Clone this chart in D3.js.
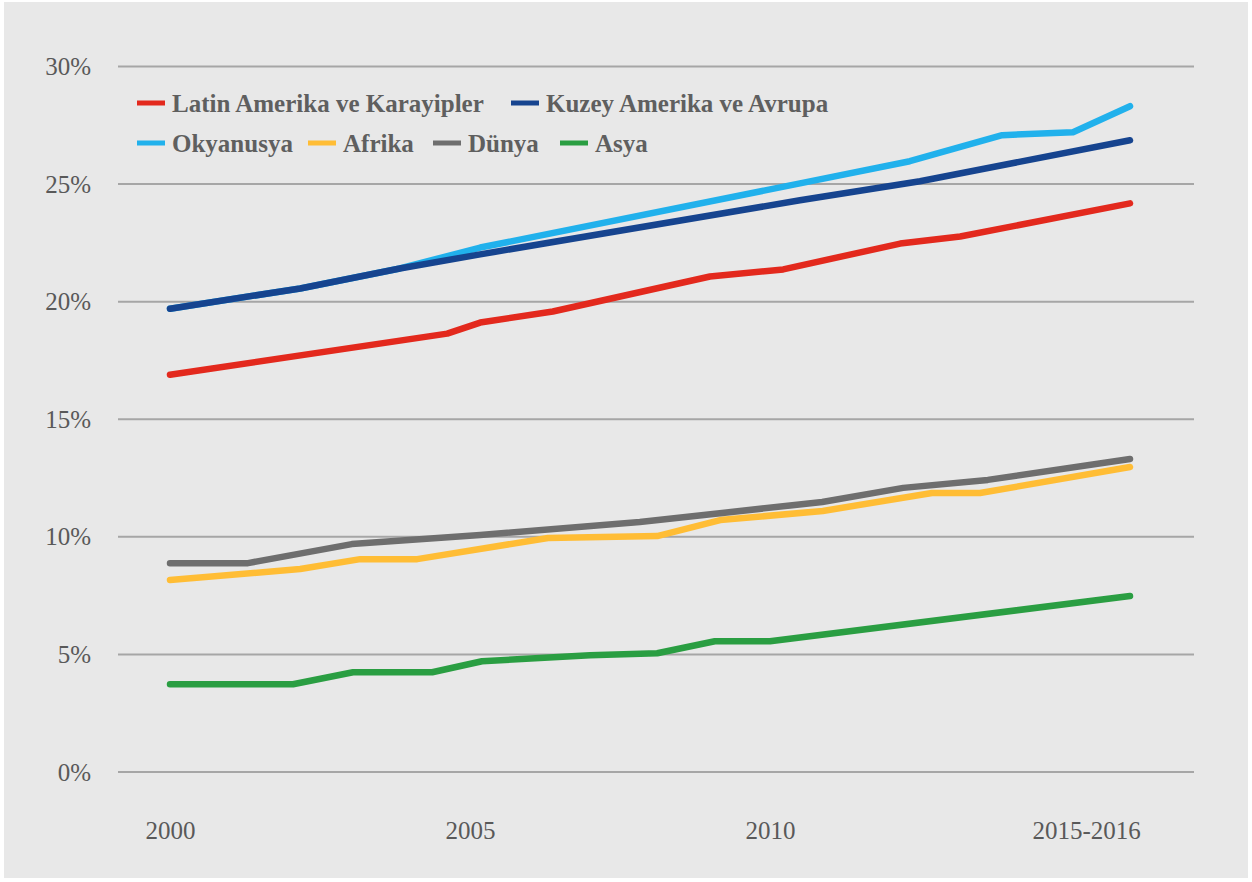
<!DOCTYPE html>
<html>
<head>
<meta charset="utf-8">
<script src="https://cdn.jsdelivr.net/npm/d3@7/dist/d3.min.js"></script>
<style>
  html, body { margin: 0; padding: 0; background: #ffffff; }
  svg { display: block; }
  text { font-family: "Liberation Serif", "Times New Roman", serif; }
</style>
</head>
<body>
<div id="chart"></div>
<script>
// Share of population (%) by region, 2000 – 2015/2016
const yTicks = [0, 5, 10, 15, 20, 25, 30];
const xTickYears = [2000, 2005, 2010, 2015.27];
const xTickLabels = ["2000", "2005", "2010", "2015-2016"];

const seriesNames = ["Latin Amerika ve Karayipler", "Kuzey Amerika ve Avrupa", "Okyanusya", "Afrika", "Dünya", "Asya"];
const seriesColors = ["#e3291d", "#16448f", "#21b1ec", "#ffbd35", "#6e6e6e", "#2a9e42"];

const latinYears  = [2000, 2004.62, 2005.17, 2006.38, 2009, 2010.22, 2012.17, 2013.17, 2016];
const latinValues = [16.87, 18.62, 19.09, 19.56, 21.05, 21.35, 22.45, 22.75, 24.16];

const kuzeyYears  = [2000, 2002.17, 2003.83, 2005.17, 2010.5, 2012.5, 2016];
const kuzeyValues = [19.68, 20.54, 21.39, 21.99, 24.29, 25.10, 26.84];

const okyanusyaYears  = [2000, 2002.17, 2003.83, 2005.17, 2010.5, 2012.33, 2013.87, 2015.05, 2016];
const okyanusyaValues = [19.68, 20.54, 21.39, 22.28, 25.01, 25.95, 27.06, 27.18, 28.29];

const afrikaYears  = [2000, 2002.17, 2003.17, 2004.12, 2006.3, 2008.12, 2009.17, 2010.88, 2012.7, 2013.5, 2016];
const afrikaValues = [8.14, 8.61, 9.03, 9.03, 9.93, 10.01, 10.69, 11.08, 11.84, 11.84, 12.95];

const dunyaYears  = [2000, 2001.3, 2003.03, 2005.17, 2007.83, 2010.87, 2012.22, 2013.63, 2016];
const dunyaValues = [8.86, 8.86, 9.67, 10.06, 10.61, 11.46, 12.06, 12.40, 13.29];

const asyaYears  = [2000, 2002.05, 2003.05, 2004.37, 2005.2, 2007, 2008.12, 2009.08, 2010, 2016];
const asyaValues = [3.71, 3.71, 4.22, 4.22, 4.69, 4.94, 5.03, 5.54, 5.54, 7.46];

const series = [
  { name: seriesNames[0], color: seriesColors[0], years: latinYears, values: latinValues },
  { name: seriesNames[1], color: seriesColors[1], years: kuzeyYears, values: kuzeyValues },
  { name: seriesNames[2], color: seriesColors[2], years: okyanusyaYears, values: okyanusyaValues },
  { name: seriesNames[3], color: seriesColors[3], years: afrikaYears, values: afrikaValues },
  { name: seriesNames[4], color: seriesColors[4], years: dunyaYears, values: dunyaValues },
  { name: seriesNames[5], color: seriesColors[5], years: asyaYears, values: asyaValues }
];

// paint order: the light-blue line sits under the dark-blue one, yellow under grey
const drawOrder = [0, 2, 1, 3, 4, 5];

const W = 1252, H = 882;
const svg = d3.select("#chart").append("svg").attr("width", W).attr("height", H);

svg.append("rect").attr("x", 4).attr("y", 2).attr("width", W - 8).attr("height", H - 6)
  .attr("fill", "#e8e8e8");

const x = d3.scaleLinear().domain([2000, 2016]).range([170, 1130]);
const y = d3.scaleLinear().domain([0, 30]).range([771.5, 66]);
const gridX0 = 118, gridX1 = 1194;

// horizontal gridlines + percentage labels
const yAxis = d3.axisLeft(y).tickValues(yTicks).tickSize(gridX1 - gridX0)
  .tickFormat(d => d + "%");
const gy = svg.append("g").attr("transform", `translate(${gridX1},0)`).call(yAxis);
gy.select(".domain").remove();
gy.selectAll(".tick line").attr("stroke", "#a6a6a6").attr("stroke-width", 2);
gy.selectAll(".tick text")
  .attr("x", -(gridX1 - 91)).attr("dy", "0.34em")
  .attr("text-anchor", "end")
  .attr("fill", "#595959").style("font-size", "25px");

// year labels along the bottom
const xAxis = d3.axisBottom(x).tickValues(xTickYears).tickSize(0)
  .tickFormat((d, i) => xTickLabels[i]);
const gx = svg.append("g").attr("transform", "translate(0,771)").call(xAxis);
gx.select(".domain").remove();
gx.selectAll(".tick text").attr("y", 68).attr("dy", 0)
  .attr("fill", "#595959").style("font-size", "25px");

// lines
const line = d3.line()
  .x(d => x(d[0]))
  .y(d => y(d[1]));

drawOrder.forEach(i => {
  const s = series[i];
  const pts = s.years.map((yr, k) => [yr, s.values[k]]);
  svg.append("path")
    .datum(pts)
    .attr("d", line)
    .attr("fill", "none")
    .attr("stroke", s.color)
    .attr("stroke-width", 6.5)
    .attr("stroke-linecap", "round")
    .attr("stroke-linejoin", "round");
});

// legend, two rows; each entry starts at its own column
const legendRows = [[0, 1], [2, 3, 4, 5]];
const legendCols = [[137, 511], [137, 308, 433, 560]];
const rowY = [103, 143];
legendRows.forEach((row, r) => {
  row.forEach((i, c) => {
    const s = series[i];
    const cx = legendCols[r][c];
    const g = svg.append("g");
    g.append("line")
      .attr("x1", cx).attr("x2", cx + 28)
      .attr("y1", rowY[r]).attr("y2", rowY[r])
      .attr("stroke", s.color).attr("stroke-width", 5);
    g.append("text")
      .attr("x", cx + 35).attr("y", rowY[r] + 9)
      .attr("fill", "#5f5f5f")
      .style("font-size", "25px").style("font-weight", "bold")
      .text(s.name);
  });
});
</script>
</body>
</html>
